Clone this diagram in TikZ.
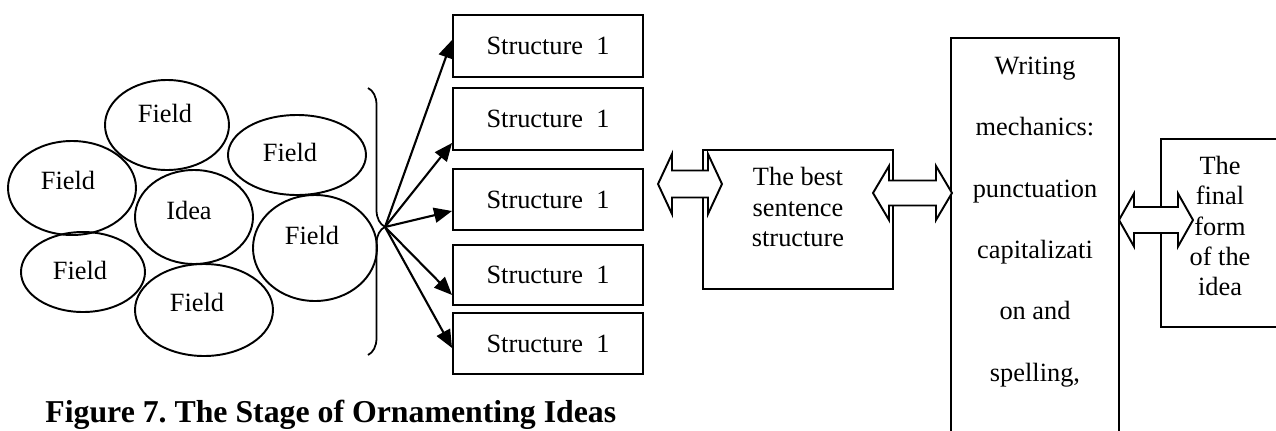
\documentclass[tikz,border=0pt]{standalone}
\usepackage{fontspec}
\setmainfont{Liberation Serif}
\frenchspacing
\usetikzlibrary{arrows.meta,decorations.pathreplacing,shapes.geometric,calc}
\newcommand{\dblarr}[6]{% x1 x2 y halfhead halfshaft headlen
  \draw[dblstyle] (#1,#3) -- ({#1+#6},{#3-#4}) -- ({#1+#6},{#3-#5}) -- ({#2-#6},{#3-#5}) -- ({#2-#6},{#3-#4}) -- (#2,#3) -- ({#2-#6},{#3+#4}) -- ({#2-#6},{#3+#5}) -- ({#1+#6},{#3+#5}) -- ({#1+#6},{#3+#4}) -- cycle;}
\tikzset{
  fieldell/.style={ellipse, draw, line width=1.1pt, inner sep=0pt},
  lbl/.style={inner sep=0pt, font=\fontsize{15}{17.3}\selectfont, align=center},
  box/.style={rectangle, draw, line width=1.1pt, inner sep=0pt},
  strbox/.style={box, minimum width=190*0.02cm, font=\fontsize{15}{17.3}\selectfont},
  dblstyle/.style={draw, fill=white, line width=1.1pt, line join=miter},
  arr/.style={line width=1.2pt, -{Triangle[length=0.36cm,width=0.3cm]}},
}
\begin{document}
\begin{tikzpicture}[x=0.02cm,y=-0.02cm]
\clip (0,0) rectangle (1276,430);
\fill[white] (0,0) rectangle (1276,430);
% ellipses
\node[fieldell, minimum width=124*0.02cm, minimum height=90*0.02cm] (e1) at (167,125) {};
\node[fieldell, minimum width=138*0.02cm, minimum height=80*0.02cm] (e2) at (297,155) {};
\node[fieldell, minimum width=128*0.02cm, minimum height=94*0.02cm] (e3) at (72,188) {};
\node[fieldell, minimum width=118*0.02cm, minimum height=94*0.02cm] (e4) at (194,217) {};
\node[fieldell, minimum width=124*0.02cm, minimum height=106*0.02cm] (e5) at (315,248) {};
\node[fieldell, minimum width=124*0.02cm, minimum height=80*0.02cm] (e6) at (83,272) {};
\node[fieldell, minimum width=138*0.02cm, minimum height=92*0.02cm] (e7) at (204,310) {};
\node[lbl] (t1) at (165,113) {Field};
\node[lbl] (t2) at (290,152) {Field};
\node[lbl] (t3) at (68,180) {Field};
\node[lbl] (t4) at (189,210) {Idea};
\node[lbl] (t5) at (312,235) {Field};
\node[lbl] (t6) at (80,270) {Field};
\node[lbl] (t7) at (197,302) {Field};
% brace
\coordinate (btop) at (368,88);
\coordinate (bbot) at (368,355);
\coordinate (tip) at (385,227);
\draw[line width=1pt, decorate, decoration={brace, amplitude=0.34cm, aspect=0.52}] (btop) -- (bbot);
% structure boxes
\node[strbox, minimum height=62*0.02cm] (s1) at (548,46) {Structure\ \ 1};
\node[strbox, minimum height=62*0.02cm] (s2) at (548,119) {Structure\ \ 1};
\node[strbox, minimum height=61*0.02cm] (s3) at (548,199.5) {Structure\ \ 1};
\node[strbox, minimum height=60*0.02cm] (s4) at (548,275) {Structure\ \ 1};
\node[strbox, minimum height=61*0.02cm] (s5) at (548,343.5) {Structure\ \ 1};
\coordinate (y1) at (0,40);
\coordinate (y2) at (0,143);
\coordinate (y3) at (0,211);
\coordinate (y4) at (0,295);
\coordinate (y5) at (0,348);
\draw[arr] (tip) -- (s1.west |- y1);
\draw[arr] (tip) -- (s2.west |- y2);
\draw[arr] (tip) -- (s3.west |- y3);
\draw[arr] (tip) -- (s4.west |- y4);
\draw[arr] (tip) -- (s5.west |- y5);
% best sentence structure
\node[box, minimum width=190*0.02cm, minimum height=139*0.02cm] (best) at (798,219.5) {};
\node[lbl] (bestt) at (798,207) {The best\\sentence\\structure};
% writing mechanics
\node[box, minimum width=168*0.02cm, minimum height=422*0.02cm] (mech) at (1035,249) {};
\node[lbl, font=\fontsize{15}{34.9}\selectfont] (mecht) at (1035,222) {Writing\\mechanics:\\punctuation\\capitalizati\\on and\\spelling,};
% final form
\node[box, minimum width=139*0.02cm, minimum height=188*0.02cm] (fin) at (1230.5,233) {};
\node[lbl] (fint) at (1220,226) {The\\final\\form\\of the\\idea};
% double arrows
\dblarr{658}{722}{184}{30}{13.5}{14}
\dblarr{873}{952}{193}{27}{12.5}{16}
\dblarr{1119}{1193}{220}{26.5}{13}{15}
% caption
\node[anchor=base west, inner sep=0pt, font=\fontsize{18.1}{21}\selectfont\bfseries] (cap) at (45,422) {Figure 7. The Stage of Ornamenting Ideas};
\end{tikzpicture}
\end{document}
